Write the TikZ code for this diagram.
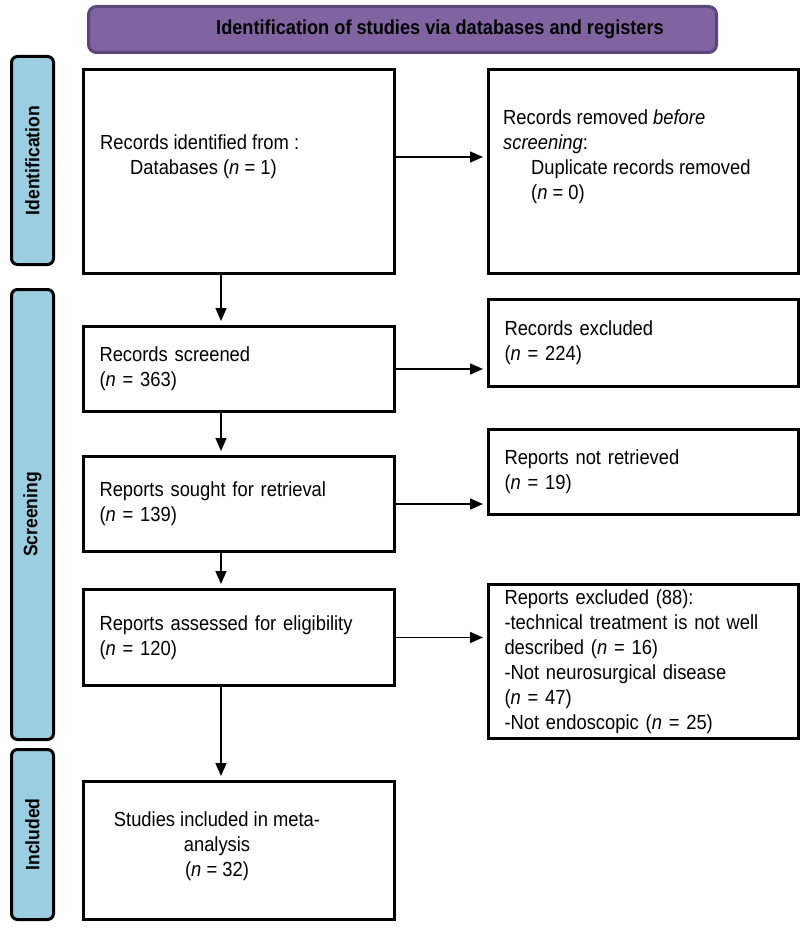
\documentclass[tikz,border=0pt]{standalone}
\usepackage{fontspec}
\setmainfont{Liberation Sans}[FakeStretch=0.9]
\usetikzlibrary{arrows.meta,calc}
\definecolor{bannerfill}{RGB}{128,100,162}
\definecolor{bannerline}{RGB}{92,70,122}
\definecolor{sidefill}{RGB}{155,206,224}
\begin{document}
\begin{tikzpicture}[x=1pt,y=-1pt,
  box/.style={draw=black, line width=3pt, fill=white, anchor=north west, inner xsep=16pt, inner ysep=0pt,
    font=\fontsize{20.4}{25}\selectfont, align=left},
  boxL/.style={box, minimum width=311pt, text width=279pt},
  boxR/.style={box, minimum width=310pt, text width=278pt},
  txt/.style={font=\fontsize{20.4}{25}\selectfont, inner sep=0pt},
  side/.style={draw=black, line width=3pt, fill=sidefill, rounded corners=6pt, anchor=north west,
    minimum width=42pt, inner sep=0pt, font=\fontsize{19.5}{22}\selectfont\bfseries},
  banner/.style={draw=bannerline, line width=3pt, fill=bannerfill, rounded corners=8pt, anchor=north west, inner sep=0pt},
  arr/.style={line width=1.5pt, -{Triangle[length=13pt,width=11pt]}, shorten >=4pt}]
\useasboundingbox (0,0) rectangle (800,934);

% banner
\node[banner, minimum width=628pt, minimum height=46pt] (ban) at (87,5) {};
\node[inner sep=0pt, font=\fontsize{20.2}{22}\selectfont\bfseries] (bant) at (440,29) {Identification of studies via databases and registers};

% side labels
\node[side, minimum height=208pt] (s1) at (10,55) {\rotatebox{90}{Identification}};
\node[side, minimum height=450pt] (s2) at (10,288) {\rotatebox{90}{Screening}};
\node[side, minimum height=170pt] (s3) at (10,748) {\rotatebox{90}{Included}};

% identification row
\node[boxL, minimum height=204pt] (b1) at (82,68) {};
\node[boxR, minimum height=204pt] (b2) at (487,68) {};
\node[txt, anchor=west, align=left] (t1) at (100,157) {Records identified from :\\\hspace*{30pt}Databases (\textit{n} = 1)};
\node[txt, anchor=west, align=left] (t2) at (503,157) {Records removed \textit{before}\\\textit{screening}:\\\hspace*{28pt}Duplicate records removed\\\hspace*{28pt}(\textit{n} = 0)};

% screening
\node[boxL, minimum height=85pt] (b3) at (82,325) {Records screened\\(\textit{n} = 363)};
\node[boxR, minimum height=87pt] (b4) at (487,298) {Records excluded\\(\textit{n} = 224)};
\node[boxL, minimum height=95pt] (b5) at (82,455) {Reports sought for retrieval\\(\textit{n} = 139)};
\node[boxR, minimum height=85pt] (b6) at (487,428) {Reports not retrieved\\(\textit{n} = 19)};
\node[boxL, minimum height=96pt] (b7) at (82,588) {Reports assessed for eligibility\\(\textit{n} = 120)};
\node[boxR, minimum height=154pt] (b8) at (487,583) {Reports excluded (88):\\-technical treatment is not well\\described (\textit{n} = 16)\\-Not neurosurgical disease\\(\textit{n} = 47)\\-Not endoscopic (\textit{n} = 25)};

% included
\node[boxL, minimum height=138pt] (b9) at (82,780) {};
\node[txt, align=center] (t9) at (217,846) {Studies included in meta-\\analysis\\(\textit{n} = 32)};

% connectors
\coordinate (ax) at (221,0);
\draw[arr] (b1.south -| ax) -- (b3.north -| ax);
\draw[arr] (b3.south -| ax) -- (b5.north -| ax);
\draw[arr] (b5.south -| ax) -- (b7.north -| ax);
\draw[arr] (b7.south -| ax) -- (b9.north -| ax);
\draw[arr] (t1 -| b1.east) -- (t1 -| b2.west);
\draw[arr] (b3.east) -- (b3.east -| b4.west);
\draw[arr] (b5.east) -- (b5.east -| b6.west);
\draw[arr] (b7.east) -- (b7.east -| b8.west);
\end{tikzpicture}
\end{document}
